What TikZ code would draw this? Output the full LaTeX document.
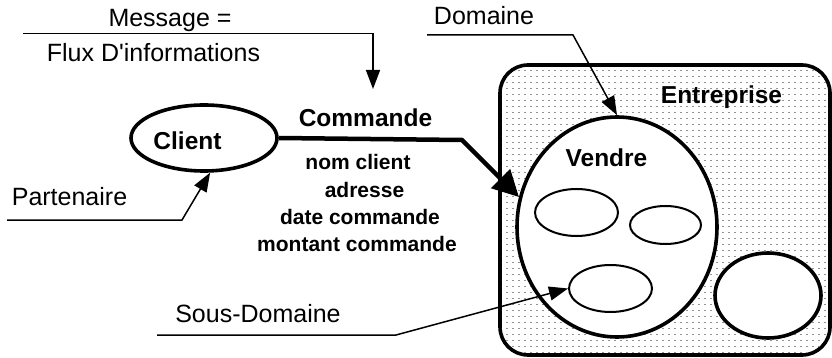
\documentclass[tikz,border=0pt]{standalone}
\usepackage{fontspec}
\setmainfont{Liberation Sans}[Ligatures=TeXOff]
\usetikzlibrary{arrows.meta,shapes.geometric}
\begin{document}
\begin{tikzpicture}[x=1pt,y=-1pt,
  lbl/.style={font=\fontsize{25}{27}\selectfont, inner sep=0pt, anchor=base},
  big/.style={font=\bfseries\fontsize{24.5}{27}\selectfont, inner sep=0pt, anchor=base},
  attr/.style={font=\bfseries\fontsize{21}{27}\selectfont, inner sep=0pt, anchor=base},
  bigell/.style={ellipse, draw, fill=white, line width=3.6pt, inner sep=0pt},
  smallell/.style={ellipse, draw, fill=white, line width=2pt, inner sep=0pt},
  pointer/.style={line width=1.5pt, -{Triangle[length=19pt,width=14pt]}},
  dotrow/.style={gray!85, line width=0.9pt, dash pattern=on 2pt off 4pt, dash phase=0pt},
]
\useasboundingbox (0,0) rectangle (832,358);
% Entreprise box
\node[draw, fill=white, rounded corners=28pt, line width=3.6pt, minimum width=330pt, minimum height=290pt, inner sep=0pt] (ent) at (665,210) {};
\begin{scope}
  \clip[rounded corners=26pt] (501.8,66.8) rectangle (828.2,353.2);
  \foreach \yy in {70.3,76.3,...,353} \draw[dotrow] (500,\yy) -- (832,\yy);
\end{scope}
\node[big] (entlbl) at (721.5,104) {Entreprise};
% Commande connector
\node[bigell, minimum width=146pt, minimum height=66pt] (client) at (204,138) {};
\node[big] (clientlbl) at (187.5,150) {Client};
\coordinate (cbend) at (462,140);
% Vendre
\node[bigell, minimum width=200pt, minimum height=220pt] (vendre) at (617,227) {};
\draw[line width=4.5pt, -{Triangle[length=26pt,width=26pt]}] (client.east) -- (cbend) -- (vendre.163);
\node[big] (vendrelbl) at (606.5,167) {Vendre};
\node[smallell, minimum width=83pt, minimum height=47pt] (s1) at (576.5,212.5) {};
\node[smallell, minimum width=71pt, minimum height=38pt] (s2) at (665.5,225) {};
\node[smallell, minimum width=83pt, minimum height=47pt] (s3) at (610.5,288.5) {};
\node[bigell, minimum width=106pt, minimum height=85pt] (other) at (768,295.5) {};
% Labels
\node[big] (cmd) at (365.5,127) {Commande};
\node[attr] (a1) at (358,170) {nom client};
\node[attr] (a2) at (364.5,197) {adresse};
\node[attr] (a3) at (360,224) {date commande};
\node[attr] (a4) at (357,251) {montant commande};
% Message
\node[lbl] (msg) at (170,27) {Message =};
\node[lbl] (flux) at (153.5,62) {Flux D'informations};
\coordinate (m1) at (23,33.5);
\coordinate (m2) at (373,33.5);
\coordinate (mt) at (373,89);
\draw[line width=1.5pt] (m1) -- (m2);
\draw[pointer] (m2) -- (mt);
% Domaine
\node[lbl] (dom) at (484,25) {Domaine};
\coordinate (d1) at (427,35);
\coordinate (d2) at (573,35);
\draw[pointer] (d1) -- (d2) -- (vendre.north);
% Partenaire
\node[lbl] (part) at (69.5,205) {Partenaire};
\coordinate (p1) at (7,220);
\coordinate (p2) at (182,220);
\draw[pointer] (p1) -- (p2) -- (client.-80);
% Sous-Domaine
\node[lbl] (sd) at (258,322) {Sous-Domaine};
\coordinate (sd1) at (157,335);
\coordinate (sd2) at (396,335);
\draw[pointer] (sd1) -- (sd2) -- (s3.west);
\end{tikzpicture}
\end{document}
